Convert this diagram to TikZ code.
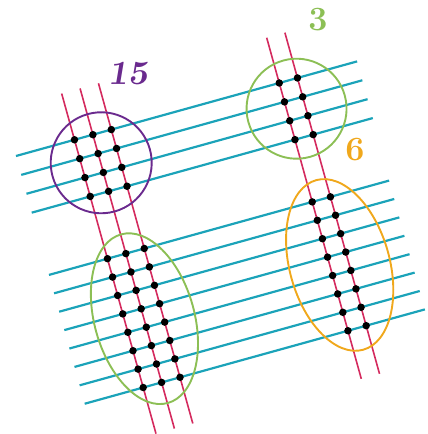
\documentclass[tikz,border=0pt]{standalone}
\definecolor{cyanline}{HTML}{1BA3B9}
\definecolor{redline}{HTML}{D42A5E}
\definecolor{purp}{HTML}{6A2A8E}
\definecolor{grn}{HTML}{8CBF55}
\definecolor{orng}{HTML}{F0A81C}
\begin{document}
\begin{tikzpicture}[x=1pt,y=-1pt,
  cline/.style={cyanline,line width=2.2pt},
  rline/.style={redline,line width=1.6pt},
  dot/.style={circle,fill=black,inner sep=0pt,minimum size=7.5pt},
  ring/.style={line width=1.9pt},
  lab/.style={font=\fontsize{34}{34}\selectfont\bfseries,inner sep=0pt}]
\useasboundingbox (0,0) rectangle (428,434);
\begin{scope}[shift={(16,156)},rotate=15.5]
  % cyan lines
  \foreach \k in {0,...,3}
    \draw[cline] (0,{19.6*\k}) coordinate (us\k) -- (354,{19.6*\k}) coordinate (ue\k);
  \foreach \k in {0,...,7}
    \draw[cline] (0,{123.4+19.1*\k}) coordinate (ls\k) -- (353,{123.4+19.1*\k}) coordinate (le\k);
  % red lines
  \foreach \j in {0,1,2}
    \draw[rline] ({60.7+19.1*\j},-48) coordinate (rlt\j) -- ({60.7+19.1*\j},305) coordinate (rlb\j);
  \foreach \j in {0,1}
    \draw[rline] ({273.2+18.9*\j},-47) coordinate (rrt\j) -- ({273.2+18.9*\j},307) coordinate (rrb\j);
  % dots
  \foreach \j in {0,1,2}{
    \foreach \k in {0,...,3}
      \node[dot] (dul\j\k) at ({60.7+19.1*\j},{19.6*\k}) {};
    \foreach \k in {0,...,7}
      \node[dot] (dll\j\k) at ({60.7+19.1*\j},{123.4+19.1*\k}) {};
  }
  \foreach \j in {0,1}{
    \foreach \k in {0,...,3}
      \node[dot] (dur\j\k) at ({273.2+18.9*\j},{19.6*\k}) {};
    \foreach \k in {0,...,7}
      \node[dot] (dlr\j\k) at ({273.2+18.9*\j},{123.4+19.1*\k}) {};
  }
  % rings
  \draw[purp,ring] (80.3,29.3) circle[radius=50.5];
  \draw[grn,ring] (283,29.4) circle[radius=50];
  \draw[grn,ring] (80.3,191.1) ellipse[x radius=50, y radius=87.5];
  \draw[orng,ring] (282.8,191.5) ellipse[x radius=50, y radius=88];
\end{scope}
\node[lab,text=purp] (l15) at (128,74) {\slshape 15};
\node[lab,text=grn] (l3) at (318,20) {3};
\node[lab,text=orng] (l6) at (355,150) {6};
\end{tikzpicture}
\end{document}
